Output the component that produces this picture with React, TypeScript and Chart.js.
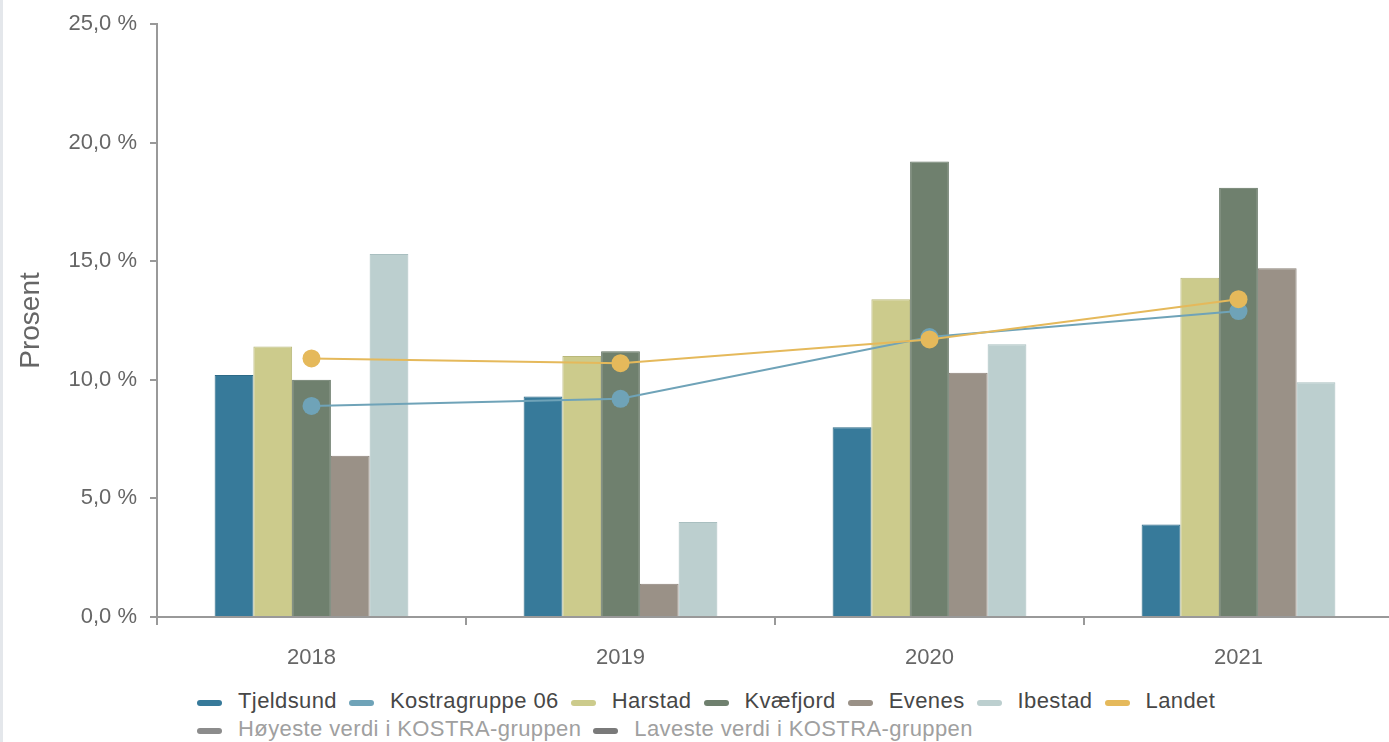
import React, { useEffect, useRef } from "react";
import { Chart, registerables } from "chart.js";

Chart.register(...registerables);

// Years on the category axis
const years = ["2018", "2019", "2020", "2021"];

// Bar series (percent)
const tjeldsund = [10.2, 9.3, 8.0, 3.9];
const harstad = [11.4, 11.0, 13.4, 14.3];
const kvaefjord = [10.0, 11.2, 19.2, 18.1];
const evenes = [6.8, 1.4, 10.3, 14.7];
const ibestad = [15.3, 4.0, 11.5, 9.9];

// Line series (percent)
const kostragruppe06 = [8.9, 9.2, 11.8, 12.9];
const landet = [10.9, 10.7, 11.7, 13.4];

// Value axis
const yMin = 0;
const yMax = 25;
const yStep = 5;

const FONT = '"Liberation Sans", Arial, Helvetica, sans-serif';

const COLORS = {
  tjeldsund: "#377a9a",
  kostra: "#6fa3b8",
  harstad: "#cccb8c",
  kvaefjord: "#6f806e",
  evenes: "#9a9187",
  ibestad: "#bccfcf",
  landet: "#e5b95b",
};

const BORDERS = {
  tjeldsund: "#2d6a87",
  harstad: "#b9b87a",
  kvaefjord: "#5f705f",
  evenes: "#8a8178",
  ibestad: "#a9bfc0",
};

const legendRows = [
  [
    { label: "Tjeldsund", color: COLORS.tjeldsund, muted: false },
    { label: "Kostragruppe 06", color: COLORS.kostra, muted: false },
    { label: "Harstad", color: COLORS.harstad, muted: false },
    { label: "Kvæfjord", color: COLORS.kvaefjord, muted: false },
    { label: "Evenes", color: COLORS.evenes, muted: false },
    { label: "Ibestad", color: COLORS.ibestad, muted: false },
    { label: "Landet", color: COLORS.landet, muted: false },
  ],
  [
    { label: "Høyeste verdi i KOSTRA-gruppen", color: "#8c8c8c", muted: true },
    { label: "Laveste verdi i KOSTRA-gruppen", color: "#7a7a7a", muted: true },
  ],
];

function formatPct(v: number) {
  return v.toFixed(1).replace(".", ",") + " %";
}

export default function App() {
  const canvasRef = useRef<HTMLCanvasElement | null>(null);

  useEffect(() => {
    const canvas = canvasRef.current;
    if (!canvas) return;

    const bar = (label: string, data: number[], key: keyof typeof BORDERS) => ({
      type: "bar" as const,
      label,
      data,
      backgroundColor: COLORS[key],
      borderColor: BORDERS[key],
      borderWidth: 1,
      order: 2,
    });

    // lower order is painted later, i.e. on top
    const line = (label: string, data: number[], color: string, order: number) => ({
      type: "line" as const,
      label,
      data,
      borderColor: color,
      backgroundColor: color,
      borderWidth: 2,
      pointRadius: 9,
      pointBorderWidth: 0,
      pointBackgroundColor: color,
      tension: 0,
      order,
    });

    const chart = new Chart(canvas, {
      type: "bar",
      data: {
        labels: years,
        datasets: [
          bar("Tjeldsund", tjeldsund, "tjeldsund"),
          line("Kostragruppe 06", kostragruppe06, COLORS.kostra, 1),
          bar("Harstad", harstad, "harstad"),
          bar("Kvæfjord", kvaefjord, "kvaefjord"),
          bar("Evenes", evenes, "evenes"),
          bar("Ibestad", ibestad, "ibestad"),
          line("Landet", landet, COLORS.landet, 0),
        ] as any,
      },
      options: {
        animation: false,
        responsive: false,
        maintainAspectRatio: false,
        layout: { padding: { top: 24, left: 0, right: 1, bottom: 0 } },
        datasets: {
          bar: { categoryPercentage: 0.627, barPercentage: 1.0 },
        },
        plugins: {
          legend: { display: false },
          tooltip: { enabled: false },
          title: { display: false },
        },
        scales: {
          x: {
            offset: true,
            grid: {
              display: true,
              offset: true,
              drawOnChartArea: false,
              drawTicks: true,
              tickLength: 8,
              color: "#999999",
              lineWidth: 2,
            },
            border: { display: true, color: "#999999", width: 2 },
            ticks: {
              color: "#666666",
              font: { family: FONT, size: 22 },
              padding: 20,
              maxRotation: 0,
            },
            afterFit: (s: any) => {
              s.height = 63;
              s.paddingLeft = 0;
              s.paddingRight = 0;
            },
          },
          y: {
            min: yMin,
            max: yMax,
            grid: {
              display: true,
              drawOnChartArea: false,
              drawTicks: true,
              tickLength: 7,
              color: "#999999",
              lineWidth: 2,
            },
            border: { display: true, color: "#999999", width: 2 },
            ticks: {
              stepSize: yStep,
              color: "#666666",
              font: { family: FONT, size: 22 },
              padding: 13,
              callback: (v: any) => formatPct(Number(v)),
            },
            title: {
              display: true,
              text: "Prosent",
              color: "#666666",
              font: { family: FONT, size: 28 },
              padding: { top: 14, bottom: 0 },
            },
            afterFit: (s: any) => {
              s.width = 157;
              s.paddingTop = 0;
              s.paddingBottom = 0;
            },
          },
        },
      },
    });

    return () => chart.destroy();
  }, []);

  return (
    <div
      style={{
        position: "absolute",
        left: 0,
        top: 0,
        width: 1389,
        height: 742,
        overflow: "hidden",
        background: "#ffffff",
        fontFamily: FONT,
      }}
    >
      <div
        style={{
          position: "absolute",
          left: 0,
          top: 0,
          width: 3,
          height: 742,
          background: "#e4e7eb",
        }}
      />
      <canvas
        ref={canvasRef}
        width={1402}
        height={680}
        style={{ position: "absolute", left: 0, top: 0, width: 1402, height: 680 }}
      />
      {legendRows.map((row, ri) => (
        <div
          key={ri}
          style={{
            position: "absolute",
            left: 197,
            top: 687 + ri * 28,
            height: 28,
            display: "flex",
            alignItems: "center",
            whiteSpace: "nowrap",
            fontSize: 22,
            letterSpacing: "0.4px",
            lineHeight: "28px",
          }}
        >
          {row.map((item) => (
            <div
              key={item.label}
              style={{ display: "flex", alignItems: "center", marginRight: 12 }}
            >
              <span
                style={{
                  display: "inline-block",
                  width: 25,
                  height: 6,
                  borderRadius: 3,
                  background: item.color,
                  marginRight: 16,
                  marginTop: 3,
                }}
              />
              <span style={{ color: item.muted ? "#a0a0a0" : "#474747" }}>
                {item.label}
              </span>
            </div>
          ))}
        </div>
      ))}
    </div>
  );
}
